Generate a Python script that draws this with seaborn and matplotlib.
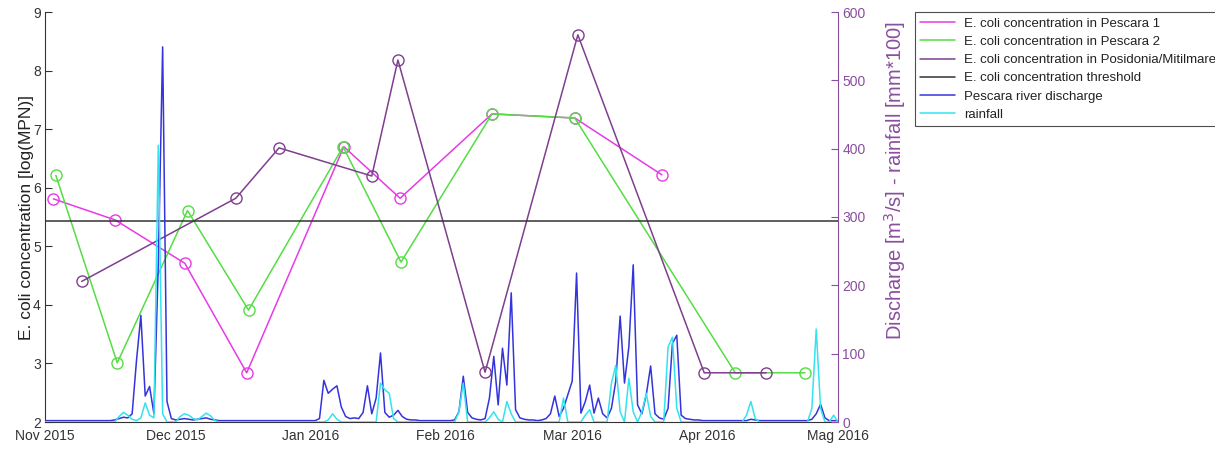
import numpy as np
import pandas as pd
import matplotlib
matplotlib.use("Agg")
import matplotlib.pyplot as plt
from matplotlib.lines import Line2D
import seaborn as sns

sns.set_style("white")
plt.rcParams['font.family'] = ['Liberation Sans', 'DejaVu Sans']

# ---- E. coli sampling campaigns (log MPN) ----
pescara1_dates = ["2015-11-02 22:00", "2015-11-17 02:00", "2015-12-03 02:00", "2015-12-17 07:00",
                  "2016-01-08 14:00", "2016-01-21 12:00", "2016-02-11 14:00", "2016-03-01 14:00",
                  "2016-03-21 14:00"]
pescara1_vals = [5.81, 5.45, 4.71, 2.84, 6.70, 5.82, 7.26, 7.19, 6.22]

pescara2_dates = ["2015-11-03 12:00", "2015-11-17 14:00", "2015-12-03 17:00", "2015-12-17 17:00",
                  "2016-01-08 10:00", "2016-01-21 17:00", "2016-02-11 14:00", "2016-03-01 14:00",
                  "2016-04-07 10:00", "2016-04-23 10:00"]
pescara2_vals = [6.21, 3.01, 5.61, 3.91, 6.70, 4.73, 7.26, 7.19, 2.84, 2.84]

posidonia_dates = ["2015-11-09 10:00", "2015-12-14 19:00", "2015-12-24 17:00", "2016-01-15 00:00",
                   "2016-01-21 00:00", "2016-02-10 00:00", "2016-03-02 07:00", "2016-03-31 07:00",
                   "2016-04-14 12:00"]
posidonia_vals = [4.40, 5.82, 6.68, 6.20, 8.18, 2.85, 8.61, 2.84, 2.84]

threshold_dates = ["2015-11-01", "2016-05-01"]
threshold_vals = [5.44, 5.44]

# ---- daily river discharge [m3/s] and rainfall [mm*100], 1 Nov 2015 - 1 May 2016 ----
daily_start = "2015-11-01"
discharge_nov = [2, 2, 2, 2, 2, 2, 2, 2, 2, 2, 2, 2, 2, 2, 2, 2,
                 3, 5, 7, 6, 12, 90, 156, 38, 52, 12, 230, 549, 30, 5]
discharge_dec = [3, 4, 5, 4, 3, 4, 5, 6, 4, 3, 2, 2, 2, 2, 2, 2,
                 2, 2, 2, 2, 2, 2, 2, 2, 2, 2, 2, 2, 2, 2, 2]
discharge_jan = [2, 2, 5, 61, 42, 48, 53, 22, 8, 5, 6, 5, 14, 53, 12, 35,
                 101, 14, 7, 10, 17, 8, 4, 3, 3, 2, 2, 2, 2, 2, 2]
discharge_feb = [2, 2, 3, 15, 67, 14, 6, 4, 3, 5, 35, 96, 25, 108, 54,
                 189, 18, 6, 4, 3, 3, 2, 3, 5, 12, 38, 8, 20, 40]
discharge_mar = [60, 218, 13, 30, 54, 13, 35, 12, 6, 20, 60, 155, 57, 110, 230,
                 25, 12, 40, 82, 12, 6, 4, 20, 115, 127, 10, 5, 4, 3, 3, 2]
discharge_apr = [2, 2, 2, 2, 2, 2, 2, 2, 2, 2, 4, 3, 2, 2, 2, 2,
                 2, 2, 2, 2, 2, 2, 2, 2, 4, 12, 26, 6, 2, 2, 2]

rain_nov = [0, 0, 0, 0, 0, 0, 0, 0, 0, 0, 0, 0, 0, 0, 0, 0,
            0, 8, 14, 10, 4, 2, 6, 28, 10, 6, 405, 12, 0, 0]
rain_dec = [0, 8, 12, 10, 5, 3, 8, 13, 9, 2, 0, 0, 0, 0, 0, 0,
            0, 0, 0, 0, 0, 0, 0, 0, 0, 0, 0, 0, 0, 0, 0]
rain_jan = [0, 0, 0, 0, 3, 12, 4, 0, 0, 0, 0, 0, 0, 0, 0, 0,
            57, 47, 42, 5, 0, 0, 0, 0, 0, 0, 0, 0, 0, 0, 0]
rain_feb = [0, 0, 0, 15, 57, 0, 0, 0, 0, 0, 6, 15, 4, 0, 30,
            12, 0, 0, 0, 0, 0, 0, 0, 0, 0, 0, 0, 35, 0]
rain_mar = [0, 0, 0, 10, 18, 0, 0, 0, 0, 57, 83, 15, 0, 64, 15,
            0, 15, 42, 8, 0, 0, 0, 110, 124, 20, 0, 0, 0, 0, 0, 0]
rain_apr = [0, 0, 0, 0, 0, 0, 0, 0, 0, 10, 30, 5, 0, 0, 0, 0,
            0, 0, 0, 0, 0, 0, 0, 0, 20, 136, 20, 0, 0, 10, 0]

discharge = discharge_nov + discharge_dec + discharge_jan + discharge_feb + discharge_mar + discharge_apr
rainfall = rain_nov + rain_dec + rain_jan + rain_feb + rain_mar + rain_apr
daily_dates = pd.date_range(daily_start, periods=len(discharge), freq="D")

month_ticks = ["2015-11-01", "2015-12-01", "2016-01-01", "2016-02-01",
               "2016-03-01", "2016-04-01", "2016-05-01"]
month_labels = ["Nov 2015", "Dec 2015", "Jan 2016", "Feb 2016", "Mar 2016", "Apr 2016", "Mag 2016"]

left_ticks = [2, 3, 4, 5, 6, 7, 8, 9]
right_ticks = [0, 100, 200, 300, 400, 500, 600]

# ---- colours ----
c_p1 = "#E63BE6"
c_p2 = "#55DD44"
c_pos = "#7E3F8E"
c_thr = "#333333"
c_dis = "#3434DD"
c_rain = "#33E3EE"
c_right = "#8A4E9E"
c_text = "#333333"

fig = plt.figure(figsize=(12.15, 4.49), dpi=100)
ax = fig.add_axes([45 / 1215, 27 / 449, 793 / 1215, 410 / 449])
ax2 = ax.twinx()

mk = dict(marker="o", markersize=8, markerfacecolor="none", markeredgewidth=1.0)

sns.lineplot(x=pd.to_datetime(pescara1_dates), y=pescara1_vals, ax=ax, color=c_p1, lw=1.1,
             markeredgecolor=c_p1, label="E. coli concentration in Pescara 1", **mk)
sns.lineplot(x=pd.to_datetime(pescara2_dates), y=pescara2_vals, ax=ax, color=c_p2, lw=1.1,
             markeredgecolor=c_p2, label="E. coli concentration in Pescara 2", **mk)
sns.lineplot(x=pd.to_datetime(posidonia_dates), y=posidonia_vals, ax=ax, color=c_pos, lw=1.1,
             markeredgecolor=c_pos, label="E. coli concentration in Posidonia/Mitilmare", **mk)
sns.lineplot(x=pd.to_datetime(threshold_dates), y=threshold_vals, ax=ax, color=c_thr, lw=1.1,
             label="E. coli concentration threshold")

sns.lineplot(x=daily_dates, y=discharge, ax=ax2, color=c_dis, lw=1.1, label="Pescara river discharge")
sns.lineplot(x=daily_dates, y=rainfall, ax=ax2, color=c_rain, lw=1.1, label="rainfall")

xmin, xmax = pd.Timestamp(month_ticks[0]), pd.Timestamp(month_ticks[-1])
ax.set_xlim(xmin, xmax)
ax.set_ylim(2, 9)
ax2.set_ylim(0, 600)

ax.set_xticks(pd.to_datetime(month_ticks))
ax.set_xticklabels(month_labels)
ax.set_yticks(left_ticks)
ax.set_yticklabels([str(t) for t in left_ticks])
ax2.set_yticks(right_ticks)
ax2.set_yticklabels([str(t) for t in right_ticks])

ax.tick_params(axis="both", direction="in", length=5, width=0.8, labelsize=10,
               colors=c_text, labelcolor=c_text, pad=3)
ax.tick_params(axis="x", pad=5)
ax2.tick_params(axis="y", direction="in", length=5, width=0.8, labelsize=10,
                colors=c_right, labelcolor=c_right, pad=3)

ax.spines["top"].set_visible(False)
ax2.spines["top"].set_visible(False)
ax.spines["left"].set_color(c_text)
ax.spines["bottom"].set_color(c_text)
ax.spines["right"].set_visible(False)
ax2.spines["left"].set_visible(False)
ax2.spines["bottom"].set_visible(False)
ax2.spines["right"].set_color(c_right)
for s in ["left", "bottom"]:
    ax.spines[s].set_linewidth(0.8)
ax2.spines["right"].set_linewidth(0.8)

ax.set_xlabel("")
ax.set_ylabel("E. coli concentration [log(MPN)]", fontsize=12.5, color="#222222")
ax.yaxis.set_label_coords(-0.0137, 0.5)
ax2.set_ylabel("Discharge [m$^3$/s] - rainfall [mm*100]", fontsize=14.5, color=c_right)
ax2.yaxis.set_label_coords(1.0554, 0.588)

# legend with plain line handles collected from both axes
h1, l1 = ax.get_legend_handles_labels()
h2, l2 = ax2.get_legend_handles_labels()
ax.get_legend().remove()
ax2.get_legend().remove()
handles = [Line2D([], [], color=h.get_color(), lw=h.get_linewidth()) for h in h1 + h2]
labels = l1 + l2
leg = fig.legend(handles, labels, loc="upper left", bbox_to_anchor=(915 / 1215, 1 - 12 / 449),
                 frameon=True, fancybox=False, edgecolor="#222222", fontsize=9.5,
                 handlelength=2.6, handletextpad=0.7, labelspacing=0.46, borderpad=0.4,
                 borderaxespad=0)
leg.get_frame().set_linewidth(0.8)
for t in leg.get_texts():
    t.set_color("#222222")

fig.savefig("out.png", dpi=100)
